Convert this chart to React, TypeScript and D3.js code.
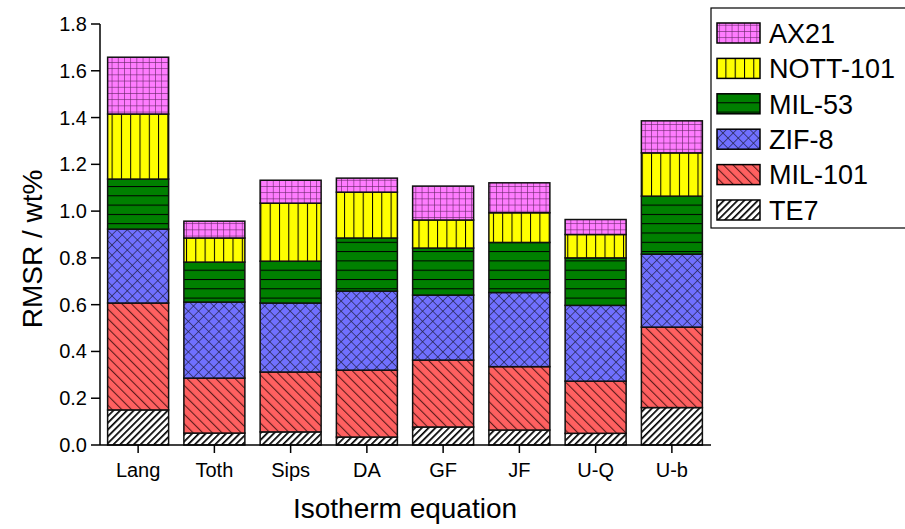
import React from "react";
import * as d3 from "d3";

const categories = ["Lang", "Toth", "Sips", "DA", "GF", "JF", "U-Q", "U-b"];
const seriesNames = ["TE7", "MIL-101", "ZIF-8", "MIL-53", "NOTT-101", "AX21"];
const TE7 = [0.15, 0.051, 0.056, 0.034, 0.077, 0.064, 0.05, 0.16];
const MIL101 = [0.457, 0.235, 0.256, 0.286, 0.286, 0.271, 0.223, 0.344];
const ZIF8 = [0.316, 0.325, 0.295, 0.338, 0.278, 0.317, 0.324, 0.312];
const MIL53 = [0.214, 0.171, 0.179, 0.227, 0.201, 0.214, 0.203, 0.248];
const NOTT101 = [0.278, 0.103, 0.248, 0.196, 0.12, 0.127, 0.1, 0.185];
const AX21 = [0.243, 0.072, 0.098, 0.06, 0.145, 0.128, 0.064, 0.137];
const yTicks = [0, 0.2, 0.4, 0.6, 0.8, 1.0, 1.2, 1.4, 1.6, 1.8];

const seriesValues = [TE7, MIL101, ZIF8, MIL53, NOTT101, AX21];
const patternIds = ["pTE7", "pMIL101", "pZIF8", "pMIL53", "pNOTT", "pAX21"];

const FONT = "Liberation Sans, Arial, sans-serif";

export default function App() {
  const W = 905, H = 529;
  const x = d3.scaleBand<string>().domain(categories).range([100, 710]).paddingInner(0.2).paddingOuter(0.1);
  const y = d3.scaleLinear().domain([0, 1.8]).range([445, 24]);

  const table = categories.map((c, i) => {
    const row: any = { cat: c };
    seriesNames.forEach((s, j) => (row[s] = seriesValues[j][i]));
    return row;
  });
  const stacked = d3.stack<any>().keys(seriesNames)(table);

  const legendOrder = [5, 4, 3, 2, 1, 0];

  return (
    <svg width={W} height={H} style={{ position: "absolute", left: 0, top: 0, background: "#fff" }} fontFamily={FONT}>
      <defs>
        <pattern id="pTE7" patternUnits="userSpaceOnUse" width={4.8} height={4.8} patternTransform="rotate(45)">
          <rect width={4.8} height={4.8} fill="#fff" />
          <line x1={0} y1={0} x2={0} y2={4.8} stroke="#000" strokeWidth={3.4} />
        </pattern>
        <pattern id="pMIL101" patternUnits="userSpaceOnUse" width={6.8} height={6.8} patternTransform="rotate(-45)">
          <rect width={6.8} height={6.8} fill="#FF6060" />
          <line x1={0} y1={0} x2={0} y2={6.8} stroke="#4a1414" strokeOpacity={0.9} strokeWidth={2.2} />
        </pattern>
        <pattern id="pZIF8" patternUnits="userSpaceOnUse" width={7.2} height={7.2} patternTransform="rotate(45)">
          <rect width={7.2} height={7.2} fill="#7070FF" />
          <line x1={0} y1={0} x2={0} y2={7.2} stroke="#22224a" strokeOpacity={0.85} strokeWidth={1.6} />
          <line x1={0} y1={0} x2={7.2} y2={0} stroke="#22224a" strokeOpacity={0.85} strokeWidth={1.6} />
        </pattern>
        <pattern id="pMIL53" patternUnits="userSpaceOnUse" width={9.3} height={9.3}>
          <rect width={9.3} height={9.3} fill="#008000" />
          <line x1={0} y1={0} x2={9.3} y2={0} stroke="#000" strokeWidth={2} />
        </pattern>
        <pattern id="pNOTT" patternUnits="userSpaceOnUse" width={9.3} height={9.3}>
          <rect width={9.3} height={9.3} fill="#FFFF00" />
          <line x1={0} y1={0} x2={0} y2={9.3} stroke="#000" strokeWidth={2} />
        </pattern>
        <pattern id="pAX21" patternUnits="userSpaceOnUse" width={6.2} height={6.2}>
          <rect width={6.2} height={6.2} fill="#FF7CFF" />
          <line x1={0} y1={0} x2={0} y2={6.2} stroke="#602060" strokeOpacity={0.8} strokeWidth={1.4} />
          <line x1={0} y1={0} x2={6.2} y2={0} stroke="#602060" strokeOpacity={0.8} strokeWidth={1.4} />
        </pattern>
      </defs>

      {stacked.map((layer, j) => (
        <g key={layer.key}>
          {layer.map((d, i) => (
            <rect
              key={i}
              x={x(categories[i])!}
              width={x.bandwidth()}
              y={y(d[1])}
              height={y(d[0]) - y(d[1])}
              fill={`url(#${patternIds[j]})`}
              stroke="#111"
              strokeWidth={1.5}
            />
          ))}
        </g>
      ))}

      {/* Y axis */}
      <line x1={100} x2={100} y1={24} y2={445} stroke="#000" strokeWidth={1.5} />
      {yTicks.map((t) => (
        <g key={t}>
          <line x1={91} x2={100} y1={y(t)} y2={y(t)} stroke="#000" strokeWidth={1.5} />
          <text x={87} y={y(t)} dy="0.35em" textAnchor="end" fontSize={20} fill="#000">
            {d3.format(".1f")(t)}
          </text>
        </g>
      ))}
      {/* X axis */}
      <line x1={100} x2={711} y1={445} y2={445} stroke="#000" strokeWidth={1.5} />
      {categories.map((c) => {
        const cx = x(c)! + x.bandwidth() / 2;
        return (
          <g key={c}>
            <line x1={cx} x2={cx} y1={445} y2={453} stroke="#000" strokeWidth={1.5} />
            <text x={cx} y={477} textAnchor="middle" fontSize={20} fill="#000">
              {c}
            </text>
          </g>
        );
      })}

      <text x={405} y={518} textAnchor="middle" fontSize={28} fill="#000">
        Isotherm equation
      </text>
      <text transform="translate(42,249) rotate(-90)" textAnchor="middle" fontSize={28} fill="#000">
        RMSR / wt%
      </text>

      {/* Legend */}
      <rect x={711} y={8} width={200} height={220} fill="#fff" stroke="#000" strokeWidth={1.2} />
      {legendOrder.map((j, k) => {
        const cy = 33 + k * 35.4;
        return (
          <g key={j}>
            <rect x={717} y={cy - 10} width={43} height={20} fill={`url(#${patternIds[j]})`} stroke="#000" strokeWidth={1.5} />
            <text x={769} y={cy} dy="0.36em" fontSize={27} fill="#000">
              {seriesNames[j]}
            </text>
          </g>
        );
      })}
    </svg>
  );
}
